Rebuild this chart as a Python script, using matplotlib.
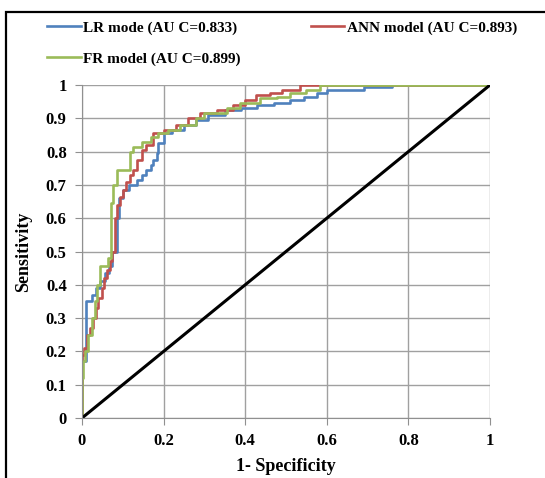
import matplotlib.pyplot as plt
from matplotlib.patches import Rectangle

# ROC step points (1-specificity, sensitivity)
lr_fpr = [0, 0, 0.01, 0.024, 0.034, 0.045, 0.056, 0.065, 0.073, 0.085, 0.09, 0.1,
          0.115, 0.134, 0.146, 0.158, 0.168, 0.175, 0.183, 0.187, 0.2, 0.22, 0.25,
          0.28, 0.31, 0.35, 0.39, 0.43, 0.47, 0.51, 0.545, 0.575, 0.6, 0.69, 0.76, 1.0]
lr_tpr = [0, 0.17, 0.35, 0.37, 0.39, 0.41, 0.435, 0.455, 0.5, 0.6, 0.66, 0.685,
          0.7, 0.715, 0.73, 0.745, 0.76, 0.775, 0.795, 0.825, 0.855, 0.865, 0.88,
          0.895, 0.91, 0.925, 0.93, 0.94, 0.945, 0.955, 0.965, 0.975, 0.985, 0.995, 1.0, 1.0]

ann_fpr = [0, 0, 0.005, 0.012, 0.02, 0.027, 0.034, 0.04, 0.048, 0.055, 0.062, 0.068,
           0.073, 0.08, 0.085, 0.092, 0.1, 0.109, 0.118, 0.126, 0.134, 0.146, 0.158,
           0.175, 0.2, 0.23, 0.26, 0.29, 0.33, 0.37, 0.40, 0.426, 0.46, 0.49, 0.534, 1.0]
ann_tpr = [0, 0.19, 0.21, 0.25, 0.27, 0.3, 0.33, 0.36, 0.39, 0.42, 0.444, 0.47,
           0.5, 0.6, 0.64, 0.665, 0.685, 0.71, 0.73, 0.745, 0.775, 0.805, 0.82,
           0.855, 0.865, 0.88, 0.9, 0.915, 0.925, 0.94, 0.955, 0.97, 0.975, 0.985, 1.0, 1.0]

fr_fpr = [0, 0, 0.003, 0.007, 0.015, 0.024, 0.032, 0.036, 0.045, 0.064, 0.071, 0.077,
          0.085, 0.118, 0.125, 0.146, 0.17, 0.187, 0.21, 0.24, 0.28, 0.3, 0.355,
          0.387, 0.436, 0.477, 0.51, 0.55, 0.583, 1.0]
fr_tpr = [0, 0.12, 0.17, 0.2, 0.25, 0.3, 0.35, 0.4, 0.455, 0.48, 0.645, 0.7,
          0.745, 0.8, 0.815, 0.83, 0.845, 0.855, 0.865, 0.88, 0.9, 0.915, 0.93,
          0.945, 0.96, 0.965, 0.975, 0.985, 1.0, 1.0]

ref_line = [0, 1]

plt.rcParams['font.family'] = ['Liberation Serif', 'DejaVu Serif']
plt.rcParams['font.weight'] = 'bold'

fig = plt.figure(figsize=(5.45, 4.78), dpi=100)
ax = fig.add_axes([82 / 545, 1 - 418 / 478, 408 / 545, 333 / 478])

l1, = ax.plot(lr_fpr, lr_tpr, drawstyle='steps-post', color='#4F81BD', lw=1.9,
              label='LR mode (AU C=0.833)')
l2, = ax.plot(ann_fpr, ann_tpr, drawstyle='steps-post', color='#C0504D', lw=1.9,
              label='ANN model (AU C=0.893)')
l3, = ax.plot(fr_fpr, fr_tpr, drawstyle='steps-post', color='#9BBB59', lw=1.9,
              label='FR model (AU C=0.899)')
ax.plot(ref_line, ref_line, color='black', lw=2.2)

ax.set_xlim(0, 1)
ax.set_ylim(0, 1)
ax.set_xticks([0, 0.2, 0.4, 0.6, 0.8, 1])
ax.set_xticklabels(['0', '0.2', '0.4', '0.6', '0.8', '1'])
ax.set_yticks([i / 10 for i in range(11)])
ax.set_yticklabels(['0', '0.1', '0.2', '0.3', '0.4', '0.5', '0.6', '0.7', '0.8', '0.9', '1'])
ax.grid(True, color='#A0A0A0', lw=1)
ax.set_axisbelow(True)
for s in ['top', 'right']:
    ax.spines[s].set_visible(False)
for s in ['left', 'bottom']:
    ax.spines[s].set_color('#909090')
ax.tick_params(direction='out', length=5, color='#909090', labelsize=12, pad=6)

ax.set_xlabel('1- Specificity', fontsize=13, fontweight='bold', labelpad=6)
ax.set_ylabel('Sensitivity', fontsize=13, fontweight='bold', labelpad=10)

fig.legend([l1, l3, l2], [l1.get_label(), l3.get_label(), l2.get_label()],
           ncol=2, loc='upper left', bbox_to_anchor=(47 / 545, 1 - 21 / 478),
           frameon=False, fontsize=11, handlelength=2.2, handletextpad=0.15,
           columnspacing=4.6, labelspacing=1.1, borderaxespad=0, borderpad=0)

fig.patches.append(Rectangle((6 / 545, -0.1), 1.2, 1 - 12 / 478 + 0.1,
                             transform=fig.transFigure, fill=False,
                             edgecolor='black', lw=1.6))

fig.savefig('out.png', dpi=100)
